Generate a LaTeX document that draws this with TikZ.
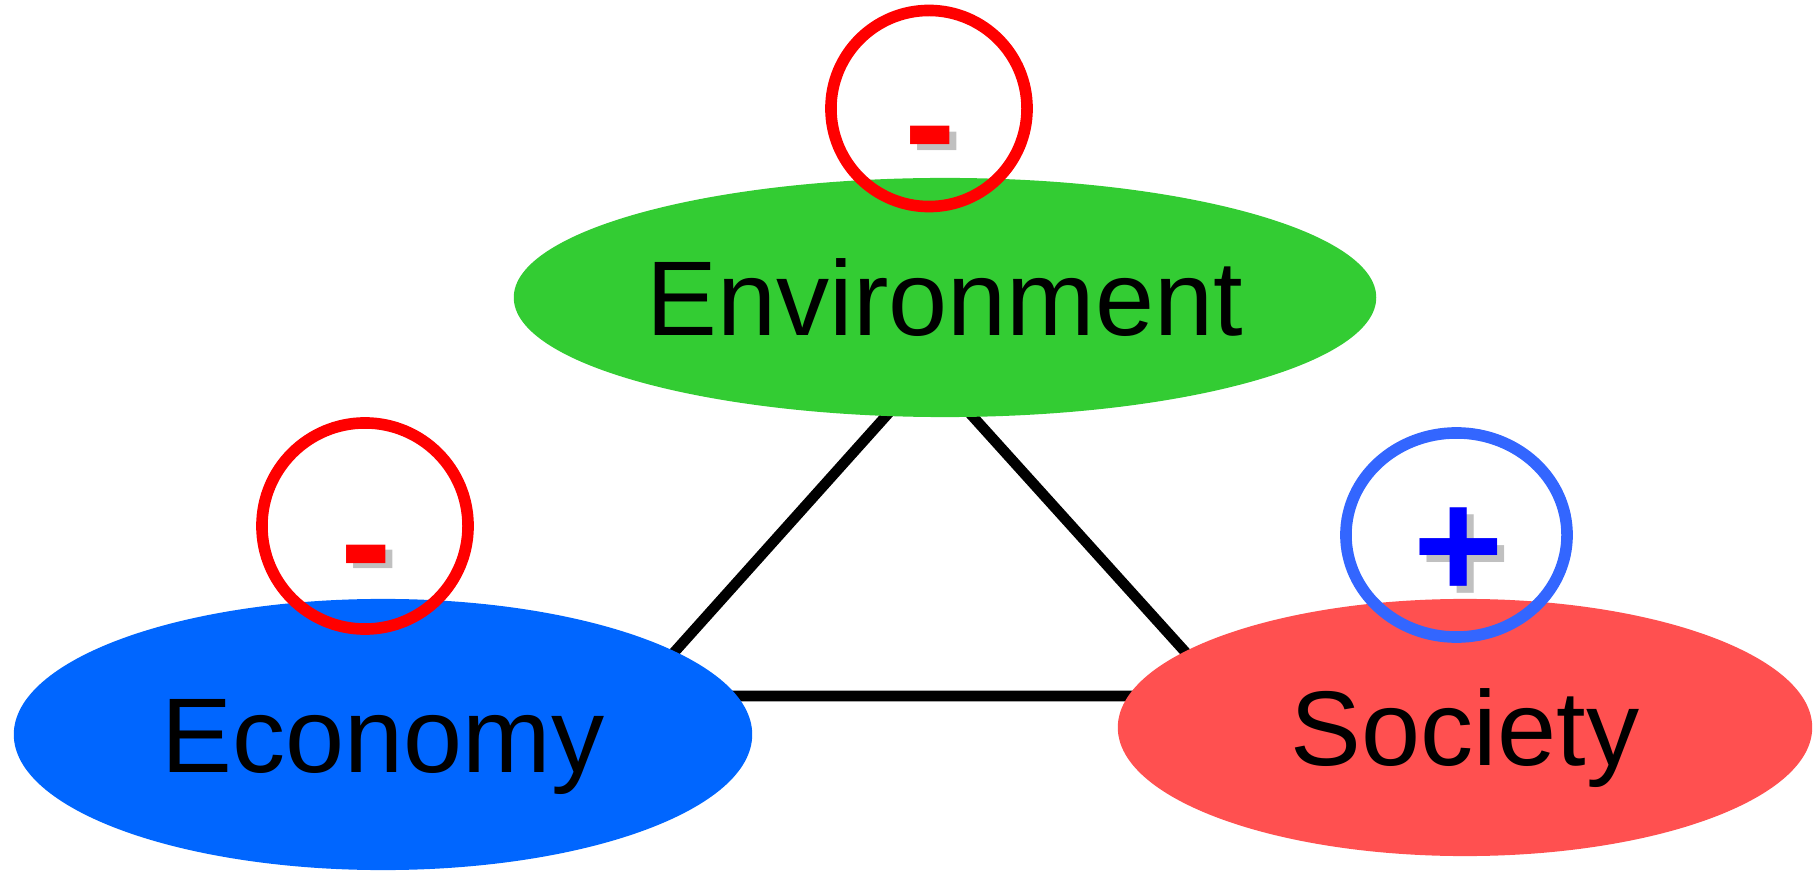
\documentclass[tikz,border=0pt]{standalone}
\usepackage{fontspec}
\setmainfont{Liberation Sans}
\usetikzlibrary{shapes.geometric}

\definecolor{envgreen}{HTML}{33CC33}
\definecolor{ecoblue}{HTML}{0066FF}
\definecolor{socred}{HTML}{FF5050}
\definecolor{ringblue}{HTML}{3366FF}
\definecolor{plusblue}{HTML}{0000FF}
\definecolor{shadowgray}{HTML}{C0C0C0}

\begin{document}
\begin{tikzpicture}[x=0.01cm, y=-0.01cm]
        \tikzstyle{pillar} = [ellipse, inner sep=0, text depth=0pt, text height=0.76cm, font=\fontsize{30.2}{36}\selectfont]
        \tikzstyle{ring} = [circle, draw=red, line width=3.3pt, inner sep=0]
        \tikzstyle{sign} = [anchor=base west, inner sep=0, font=\bfseries\fontsize{44}{44}\selectfont]
        \useasboundingbox (0,0) rectangle (1814,873);
        % triangle behind the three pillars
        \coordinate (top) at (929,368);
        \coordinate (left) at (635,696);
        \coordinate (right) at (1225,696);
        \draw[line width=3pt] (top) -- (left) -- (right) -- cycle;
        \node[pillar, fill=envgreen, minimum width=8.62cm, minimum height=2.39cm] (env) at (945,297.5) {Environment};
        \node[pillar, fill=ecoblue, minimum width=7.38cm, minimum height=2.71cm] (eco) at (383,734.5) {Economy};
        \node[pillar, fill=socred, minimum width=6.94cm, minimum height=2.57cm] (soc) at (1465,727.5) {Society};
        % rings with signs
        \node[ring, minimum size=1.96cm] (envring) at (929,108.5) {};
        \node[ring, minimum size=2.06cm] (ecoring) at (365,526) {};
        \node[ring, ellipse, draw=ringblue, minimum width=2.21cm, minimum height=2.04cm] (socring) at (1456.5,535) {};
        \node[sign, text=shadowgray] (envshadow) at (911,182) {-};
        \node[sign, text=red] (envsign) at (904,176) {-};
        \node[sign, text=shadowgray] (ecoshadow) at (347,600) {-};
        \node[sign, text=red] (ecosign) at (340,594) {-};
        \node[sign, text=shadowgray] (socshadow) at (1420,605) {+};
        \node[sign, text=plusblue] (socsign) at (1413,598) {+};
\end{tikzpicture}
\end{document}
